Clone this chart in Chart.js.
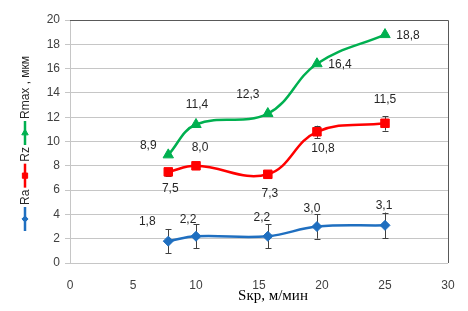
<!DOCTYPE html>
<html>
<head>
<meta charset="utf-8">
<script src="https://cdn.jsdelivr.net/npm/chart.js@4"></script>
<style>
  html, body { margin: 0; padding: 0; background: #fff; }
  #wrap { width: 468px; height: 311px; }
</style>
</head>
<body>
<div id="wrap"><canvas id="chart" width="468" height="311"></canvas></div>
<script>
// Скорость резания, м/мин
const speeds = [7.8, 10.0, 15.7, 19.6, 25.0];

// Шероховатость, мкм
const raValues = [1.8, 2.2, 2.2, 3.0, 3.1];
const rzValues = [7.5, 8.0, 7.3, 10.8, 11.5];
const rmaxValues = [8.9, 11.4, 12.3, 16.4, 18.8];

// Погрешности (±)
const raErrors = [1.0, 1.0, 1.0, 1.0, 1.05];
const rzErrors = [0.3, 0.3, 0.3, 0.5, 0.6];
const rmaxErrors = [0, 0, 0, 0, 0];

const seriesNames = ['Ra', 'Rz', 'Rmax'];
const yUnit = ', мкм';
const xTitle = 'Sкр, м/мин';

const xTicks = [0, 5, 10, 15, 20, 25, 30];
const yTicks = [0, 2, 4, 6, 8, 10, 12, 14, 16, 18, 20];

const toPoints = (vals) => vals.map((v, i) => ({ x: speeds[i], y: v }));
const fmt = (v) => v.toFixed(1).replace('.', ',');

// Планки погрешностей
const errorBarsPlugin = {
  id: 'errorBars',
  beforeDatasetsDraw(chart) {
    const { ctx } = chart;
    const yScale = chart.scales.y;
    chart.data.datasets.forEach((ds, di) => {
      const meta = chart.getDatasetMeta(di);
      ctx.save();
      ctx.strokeStyle = '#404040';
      ctx.lineWidth = 1;
      meta.data.forEach((pt, i) => {
        const err = ds.errors[i];
        if (!err) return;
        const v = ds.data[i].y;
        const top = yScale.getPixelForValue(v + err);
        const bot = yScale.getPixelForValue(v - err);
        const x = Math.round(pt.x) + 0.5;
        ctx.beginPath();
        ctx.moveTo(x, top);
        ctx.lineTo(x, bot);
        ctx.moveTo(x - 3, Math.round(top) + 0.5);
        ctx.lineTo(x + 3, Math.round(top) + 0.5);
        ctx.moveTo(x - 3, Math.round(bot) + 0.5);
        ctx.lineTo(x + 3, Math.round(bot) + 0.5);
        ctx.stroke();
      });
      ctx.restore();
    });
  },
};

// Подписи значений
const valueLabelsPlugin = {
  id: 'valueLabels',
  afterDatasetsDraw(chart) {
    const { ctx } = chart;
    ctx.save();
    ctx.font = '12px "Liberation Sans", Arial, sans-serif';
    ctx.fillStyle = '#262626';
    ctx.textAlign = 'center';
    ctx.textBaseline = 'middle';
    chart.data.datasets.forEach((ds, di) => {
      const meta = chart.getDatasetMeta(di);
      meta.data.forEach((pt, i) => {
        const [dx, dy] = ds.labelOffsets[i];
        ctx.fillText(fmt(ds.data[i].y), pt.x + dx, pt.y + dy);
      });
    });
    ctx.restore();
  },
};

// Рамка, вертикальная легенда и подпись оси X
const decorPlugin = {
  id: 'decor',
  afterDraw(chart) {
    const { ctx, chartArea } = chart;
    ctx.save();
    // верхняя и правая граница
    ctx.strokeStyle = '#595959';
    ctx.lineWidth = 1;
    ctx.beginPath();
    ctx.moveTo(chartArea.left, Math.round(chartArea.top) + 0.5);
    ctx.lineTo(Math.round(chartArea.right) + 0.5, Math.round(chartArea.top) + 0.5);
    ctx.lineTo(Math.round(chartArea.right) + 0.5, chartArea.bottom);
    ctx.stroke();

    // подпись оси X
    ctx.font = '15px "Liberation Serif", "Times New Roman", serif';
    ctx.fillStyle = '#000';
    ctx.textAlign = 'center';
    ctx.textBaseline = 'middle';
    ctx.fillText(xTitle, 273, 296);

    // легенда (повернута)
    ctx.font = '12px "Liberation Sans", Arial, sans-serif';
    let y = 231;
    const lx = 25;
    chart.data.datasets.forEach((ds, di) => {
      ctx.strokeStyle = ds.borderColor;
      ctx.lineWidth = 2.5;
      ctx.beginPath();
      ctx.moveTo(lx, y);
      ctx.lineTo(lx, y - 24);
      ctx.stroke();
      ctx.fillStyle = ds.borderColor;
      ctx.lineWidth = 1;
      Chart.helpers.drawPoint(ctx, {
        pointStyle: ds.pointStyle,
        radius: ds.pointRadius * 0.62,
        borderWidth: 1,
        rotation: 0,
      }, lx, y - 12);
      y -= 26;
      let text = ds.label;
      if (di === chart.data.datasets.length - 1) text += ' ' + yUnit;
      const w = ctx.measureText(text).width;
      ctx.save();
      ctx.translate(lx + 1, y);
      ctx.rotate(-Math.PI / 2);
      ctx.fillStyle = '#262626';
      ctx.textAlign = 'left';
      ctx.textBaseline = 'middle';
      ctx.fillText(text, 0, 0);
      ctx.restore();
      y -= w + 2;
    });
    ctx.restore();
  },
};

const ctx = document.getElementById('chart').getContext('2d');
new Chart(ctx, {
  type: 'line',
  data: {
    datasets: [
      {
        label: seriesNames[0],
        data: toPoints(raValues),
        errors: raErrors,
        borderColor: '#1f6fc0',
        backgroundColor: '#1f6fc0',
        pointStyle: 'rectRot',
        pointRadius: 5,
        labelOffsets: [[-21, -19], [-8, -17], [-6, -19], [-5, -18], [-1, -20]],
      },
      {
        label: seriesNames[1],
        data: toPoints(rzValues),
        errors: rzErrors,
        borderColor: '#ff0000',
        backgroundColor: '#ff0000',
        pointStyle: 'rect',
        pointRadius: 6,
        labelOffsets: [[2, 17], [4, -18], [2, 19], [6, 17], [0, -24]],
      },
      {
        label: seriesNames[2],
        data: toPoints(rmaxValues),
        errors: rmaxErrors,
        borderColor: '#00b050',
        backgroundColor: '#00b050',
        pointStyle: 'triangle',
        pointRadius: 6,
        labelOffsets: [[-20, -9], [1, -20], [-20, -19], [23, 1], [23, 1]],
      },
    ],
  },
  options: {
    animation: false,
    responsive: false,
    devicePixelRatio: 1,
    elements: {
      line: { borderWidth: 2.5, tension: 0.4, fill: false },
      point: { borderWidth: 1, hoverRadius: 6 },
    },
    layout: { padding: { top: 20, right: 20, left: 0, bottom: 0 } },
    plugins: {
      legend: { display: false },
      tooltip: { enabled: false },
    },
    scales: {
      x: {
        type: 'linear',
        min: 0,
        max: 30,
        afterBuildTicks: (scale) => { scale.ticks = xTicks.map((v) => ({ value: v })); },
        afterFit: (scale) => { scale.height = 48; },
        grid: { display: false },
        border: { display: false },
        ticks: {
          padding: 7,
          color: '#404040',
          font: { family: '"Liberation Sans", Arial, sans-serif', size: 12 },
        },
      },
      y: {
        min: 0,
        max: 20,
        afterBuildTicks: (scale) => { scale.ticks = yTicks.map((v) => ({ value: v })); },
        afterFit: (scale) => { scale.width = 70; },
        grid: { color: '#c6c6c6', tickLength: 5, lineWidth: 1 },
        border: { color: '#c6c6c6' },
        ticks: {
          padding: 5,
          color: '#404040',
          font: { family: '"Liberation Sans", Arial, sans-serif', size: 12 },
        },
      },
    },
  },
  plugins: [errorBarsPlugin, valueLabelsPlugin, decorPlugin],
});
</script>
</body>
</html>
